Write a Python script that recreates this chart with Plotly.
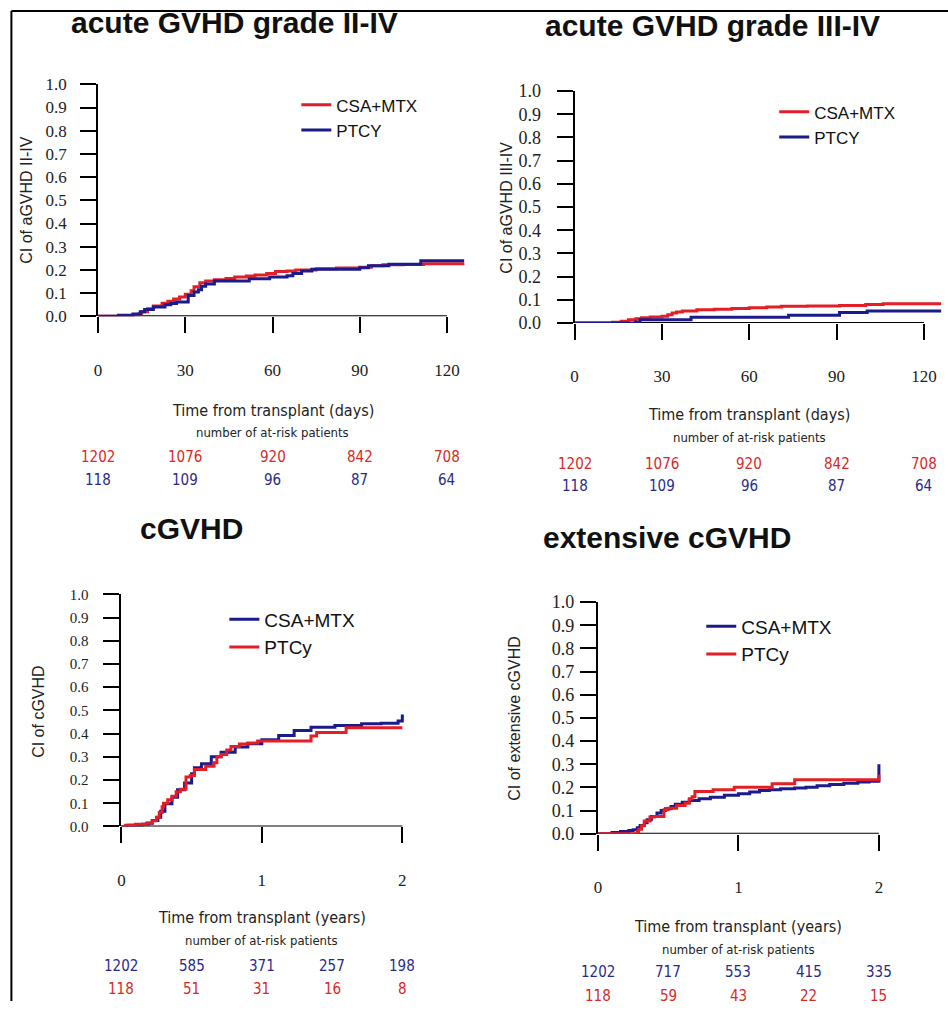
import plotly.graph_objects as go

W, H = 948, 1011

# ---------------- data ----------------
# acute GVHD grade II-IV (days)
tl_days_csa = [0, 7, 12, 14, 15, 17, 19, 22, 24, 26, 28, 30, 32, 33, 35, 37, 40, 44, 47, 51, 54, 58, 61, 65, 68, 75, 82, 90, 94, 98, 105, 112, 126]
tl_ci_csa = [0, 0.003, 0.006, 0.01, 0.02, 0.033, 0.045, 0.057, 0.065, 0.075, 0.083, 0.095, 0.11, 0.128, 0.145, 0.152, 0.158, 0.163, 0.17, 0.174, 0.178, 0.185, 0.193, 0.196, 0.2, 0.205, 0.208, 0.212, 0.218, 0.222, 0.224, 0.227, 0.228]
tl_days_ptcy = [0, 7, 12, 14.5, 16, 19, 23, 25, 27, 31, 33, 34.5, 35.6, 37, 40, 52, 59, 65, 67, 70, 73.5, 90, 93, 100, 111, 126]
tl_ci_ptcy = [0, 0.005, 0.01, 0.02, 0.03, 0.04, 0.05, 0.055, 0.062, 0.09, 0.105, 0.115, 0.13, 0.14, 0.152, 0.162, 0.17, 0.175, 0.185, 0.195, 0.203, 0.21, 0.218, 0.225, 0.24, 0.24]

# acute GVHD grade III-IV (days)
tr_days_csa = [0, 13, 16, 18.5, 21, 23, 26, 30, 32, 33.5, 35, 37, 42, 48, 54, 60, 66, 71, 80, 91, 100, 106, 126]
tr_ci_csa = [0, 0.003, 0.008, 0.014, 0.019, 0.023, 0.026, 0.029, 0.036, 0.043, 0.048, 0.052, 0.057, 0.06, 0.063, 0.066, 0.069, 0.072, 0.074, 0.076, 0.08, 0.083, 0.083]
tr_days_ptcy = [0, 21, 22.5, 40, 73.5, 91, 100.5, 126]
tr_ci_ptcy = [0, 0.005, 0.014, 0.025, 0.034, 0.045, 0.052, 0.052]

# cGVHD (years)
bl_years_csa = [0, 0.05, 0.15, 0.19, 0.22, 0.26, 0.28, 0.31, 0.36, 0.4, 0.45, 0.5, 0.52, 0.57, 0.64, 0.71, 0.81, 0.9, 1.0, 1.12, 1.23, 1.35, 1.52, 1.71, 1.85, 1.97, 2.0, 2.0]
bl_ci_csa = [0, 0.005, 0.01, 0.014, 0.026, 0.04, 0.066, 0.098, 0.126, 0.158, 0.187, 0.227, 0.253, 0.27, 0.3, 0.32, 0.342, 0.356, 0.374, 0.392, 0.414, 0.428, 0.435, 0.443, 0.445, 0.454, 0.46, 0.483]
bl_years_ptcy = [0, 0.03, 0.1, 0.18, 0.22, 0.25, 0.27, 0.29, 0.3, 0.33, 0.36, 0.39, 0.42, 0.46, 0.49, 0.52, 0.6, 0.66, 0.68, 0.71, 0.75, 0.78, 0.84, 0.9, 0.97, 1.35, 1.39, 1.6, 2.0]
bl_ci_ptcy = [0, 0.005, 0.01, 0.015, 0.025, 0.04, 0.06, 0.085, 0.1, 0.115, 0.13, 0.15, 0.16, 0.213, 0.22, 0.245, 0.26, 0.275, 0.3, 0.31, 0.33, 0.345, 0.355, 0.36, 0.368, 0.39, 0.405, 0.425, 0.425]

# extensive cGVHD (years)
br_years_csa = [0, 0.1, 0.16, 0.22, 0.25, 0.28, 0.3, 0.33, 0.35, 0.38, 0.42, 0.45, 0.48, 0.52, 0.55, 0.6, 0.65, 0.72, 0.8, 0.9, 1.0, 1.08, 1.15, 1.22, 1.3, 1.4, 1.48, 1.56, 1.65, 1.75, 1.85, 1.93, 2.0, 2.0]
br_ci_csa = [0, 0.005, 0.01, 0.014, 0.017, 0.026, 0.036, 0.048, 0.06, 0.075, 0.09, 0.1, 0.108, 0.118, 0.127, 0.136, 0.144, 0.151, 0.158, 0.166, 0.173, 0.18, 0.187, 0.19, 0.194, 0.198, 0.201, 0.207, 0.213, 0.218, 0.223, 0.227, 0.23, 0.3]
br_years_ptcy = [0, 0.28, 0.29, 0.31, 0.33, 0.37, 0.4, 0.47, 0.5, 0.56, 0.62, 0.65, 0.67, 0.69, 0.82, 0.97, 1.24, 1.4, 2.0, 2.0]
br_ci_ptcy = [0, 0.01, 0.02, 0.035, 0.055, 0.072, 0.075, 0.104, 0.11, 0.122, 0.132, 0.151, 0.16, 0.183, 0.19, 0.201, 0.216, 0.233, 0.233, 0.255]

# ticks
y_ticks = [0.0, 0.1, 0.2, 0.3, 0.4, 0.5, 0.6, 0.7, 0.8, 0.9, 1.0]
y_ticktext = ["0.0", "0.1", "0.2", "0.3", "0.4", "0.5", "0.6", "0.7", "0.8", "0.9", "1.0"]
day_ticks = [0, 30, 60, 90, 120]
year_ticks = [0, 1, 2]
risk_days = [0, 30, 60, 90, 120]
risk_years = [0, 0.5, 1, 1.5, 2]

# at-risk numbers
tl_risk_csa = ["1202", "1076", "920", "842", "708"]
tl_risk_ptcy = ["118", "109", "96", "87", "64"]
tr_risk_csa = ["1202", "1076", "920", "842", "708"]
tr_risk_ptcy = ["118", "109", "96", "87", "64"]
bl_risk_csa = ["1202", "585", "371", "257", "198"]
bl_risk_ptcy = ["118", "51", "31", "16", "8"]
br_risk_csa = ["1202", "717", "553", "415", "335"]
br_risk_ptcy = ["118", "59", "43", "22", "15"]

RED = "#e41e26"
BLUE = "#1b1b8c"
RED_TXT = "#d42a2a"
BLUE_TXT = "#2b2b85"

SERIF = "Liberation Serif, Times New Roman, serif"
SANS = "Liberation Sans, Arial, sans-serif"
NARROW = "Liberation Sans Narrow, Arial Narrow, DejaVu Sans Condensed, Liberation Sans, sans-serif"

# page-pixel -> paper fraction (calibrated to the rendered page)
X_OFF, X_SPAN = 2.6, 944.2
Y_OFF, Y_SPAN = 9.7, 990.8


def fx(px):
    return (px - X_OFF) / X_SPAN


def fy(py):
    return 1 - (py - Y_OFF) / Y_SPAN


panels = [
    dict(title="acute GVHD grade II-IV", title_xy=(233, 22),
         ytitle="CI of aGVHD II-IV", ytitle_xy=(25, 200),
         x0=96.7, ppu=2.908, xmax=126, y0=316, y1=84, xticks=day_ticks,
         xtitle="Time from transplant (days)",
         rows=(370, 410, 432, 457, 480), risk_x=risk_days,
         risk1=tl_risk_csa, risk2=tl_risk_ptcy, c1=RED_TXT, c2=BLUE_TXT,
         traces=[(tl_days_csa, tl_ci_csa, "CSA+MTX", RED), (tl_days_ptcy, tl_ci_ptcy, "PTCY", BLUE)],
         leg=(295, 117.5), legsize=17, ystand=10, yfs=17),
    dict(title="acute GVHD grade III-IV", title_xy=(711, 25),
         ytitle="CI of aGVHD III-IV", ytitle_xy=(505, 207),
         x0=573.3, ppu=2.912, xmax=126, y0=322.7, y1=90.7, xticks=day_ticks,
         xtitle="Time from transplant (days)",
         rows=(376, 414, 437, 464, 486), risk_x=risk_days,
         risk1=tr_risk_csa, risk2=tr_risk_ptcy, c1=RED_TXT, c2=BLUE_TXT,
         traces=[(tr_days_csa, tr_ci_csa, "CSA+MTX", RED), (tr_days_ptcy, tr_ci_ptcy, "PTCY", BLUE)],
         leg=(773, 124.5), legsize=17, ystand=12, yfs=18),
    dict(title="cGVHD", title_xy=(190, 528),
         ytitle="CI of cGVHD", ytitle_xy=(37, 711),
         x0=120, ppu=140.5, xmax=2.03, y0=826, y1=594, xticks=year_ticks,
         xtitle="Time from transplant (years)",
         rows=(880, 917, 940, 966, 989), risk_x=risk_years,
         risk1=bl_risk_csa, risk2=bl_risk_ptcy, c1=BLUE_TXT, c2=RED_TXT,
         traces=[(bl_years_csa, bl_ci_csa, "CSA+MTX", BLUE), (bl_years_ptcy, bl_ci_ptcy, "PTCy", RED)],
         leg=(223, 633), legsize=19, ystand=12, yfs=15),
    dict(title="extensive cGVHD", title_xy=(666, 537),
         ytitle="CI of extensive cGVHD", ytitle_xy=(513, 718),
         x0=596.7, ppu=140.5, xmax=2.03, y0=833.3, y1=601.7, xticks=year_ticks,
         xtitle="Time from transplant (years)",
         rows=(886, 926, 949, 972, 996), risk_x=risk_years,
         risk1=br_risk_csa, risk2=br_risk_ptcy, c1=BLUE_TXT, c2=RED_TXT,
         traces=[(br_years_csa, br_ci_csa, "CSA+MTX", BLUE), (br_years_ptcy, br_ci_ptcy, "PTCy", RED)],
         leg=(700, 640), legsize=19, ystand=2, yfs=18),
]

fig = go.Figure()
annotations = []
shapes = []
layout_extra = {}

for i, p in enumerate(panels):
    n = "" if i == 0 else str(i + 1)
    xa, ya = "x" + n, "y" + n
    leg = "legend" + n
    for rank, (xs, ys, label, color) in enumerate(p["traces"]):
        fig.add_trace(go.Scatter(
            x=xs, y=ys, mode="lines", line=dict(color=color, width=3, shape="hv"),
            name=label, xaxis=xa, yaxis=ya, legend=leg, legendrank=rank + 1,
            hoverinfo="skip"))
    x_right = p["x0"] + p["xmax"] * p["ppu"]
    layout_extra["xaxis" + n] = dict(
        domain=[fx(p["x0"]), fx(x_right)], range=[0, p["xmax"]], anchor=ya,
        showgrid=False, zeroline=False, showline=False,
        ticks="outside", ticklen=16, tickwidth=2, tickcolor="black",
        tickvals=p["xticks"], ticklabelstandoff=22,
        tickfont=dict(family=SERIF, size=17, color="#222"), fixedrange=True)
    layout_extra["yaxis" + n] = dict(
        domain=[fy(p["y0"]), fy(p["y1"])], range=[0, 1], anchor=xa,
        showgrid=False, zeroline=False, showline=True, linecolor="black", linewidth=2,
        ticks="outside", ticklen=16, tickwidth=2, tickcolor="black",
        tickvals=y_ticks, ticktext=y_ticktext, ticklabelstandoff=p["ystand"],
        tickfont=dict(family=SERIF, size=p["yfs"], color="#222"), fixedrange=True)
    layout_extra[leg] = dict(
        x=fx(p["leg"][0]), y=fy(p["leg"][1]), xanchor="left", yanchor="middle",
        bgcolor="rgba(0,0,0,0)", borderwidth=0, traceorder="normal",
        font=dict(family=SANS, size=p["legsize"], color="#111"))
    # x axis line from first to last tick
    shapes.append(dict(type="line", xref=xa, yref=ya, x0=p["xticks"][0], x1=p["xticks"][-1],
                       y0=0, y1=0, line=dict(color="black", width=2), layer="below"))
    # titles
    annotations.append(dict(text="<b>" + p["title"] + "</b>", x=fx(p["title_xy"][0]), y=fy(p["title_xy"][1]),
                            xref="paper", yref="paper", showarrow=False, xanchor="center", yanchor="middle",
                            font=dict(family=SANS, size=30, color="#111")))
    annotations.append(dict(text=p["ytitle"], x=fx(p["ytitle_xy"][0]), y=fy(p["ytitle_xy"][1]),
                            xref="paper", yref="paper", showarrow=False, textangle=-90,
                            xanchor="center", yanchor="middle",
                            font=dict(family=SANS, size=16, color="#222")))
    r = p["rows"]
    xmid = (p["xticks"][0] + p["xticks"][-1]) / 2
    annotations.append(dict(text=p["xtitle"], x=xmid, y=fy(r[1]), xref=xa, yref="paper",
                            showarrow=False, xanchor="center", yanchor="middle",
                            font=dict(family=NARROW, size=16, color="#222")))
    annotations.append(dict(text="number of at-risk patients", x=xmid, y=fy(r[2]), xref=xa, yref="paper",
                            showarrow=False, xanchor="center", yanchor="middle",
                            font=dict(family=NARROW, size=13, color="#222")))
    for xv, t1, t2 in zip(p["risk_x"], p["risk1"], p["risk2"]):
        annotations.append(dict(text=t1, x=xv, y=fy(r[3]), xref=xa, yref="paper", showarrow=False,
                                xanchor="center", yanchor="middle",
                                font=dict(family=NARROW, size=15, color=p["c1"])))
        annotations.append(dict(text=t2, x=xv, y=fy(r[4]), xref=xa, yref="paper", showarrow=False,
                                xanchor="center", yanchor="middle",
                                font=dict(family=NARROW, size=15, color=p["c2"])))

# outer frame (top and left edges)
top_y = 1 - 1.0 / H
shapes.append(dict(type="line", xref="paper", yref="paper", x0=fx(10), x1=1, y0=top_y, y1=top_y,
                   line=dict(color="black", width=2)))
shapes.append(dict(type="line", xref="paper", yref="paper", x0=fx(10), x1=fx(10), y0=top_y, y1=0,
                   line=dict(color="black", width=2)))

fig.update_layout(
    width=W, height=H, margin=dict(l=0, r=0, t=0, b=0),
    paper_bgcolor="white", plot_bgcolor="white",
    showlegend=True, annotations=annotations, shapes=shapes,
    **layout_extra)

fig.write_html("out.html", config={"displayModeBar": False})
